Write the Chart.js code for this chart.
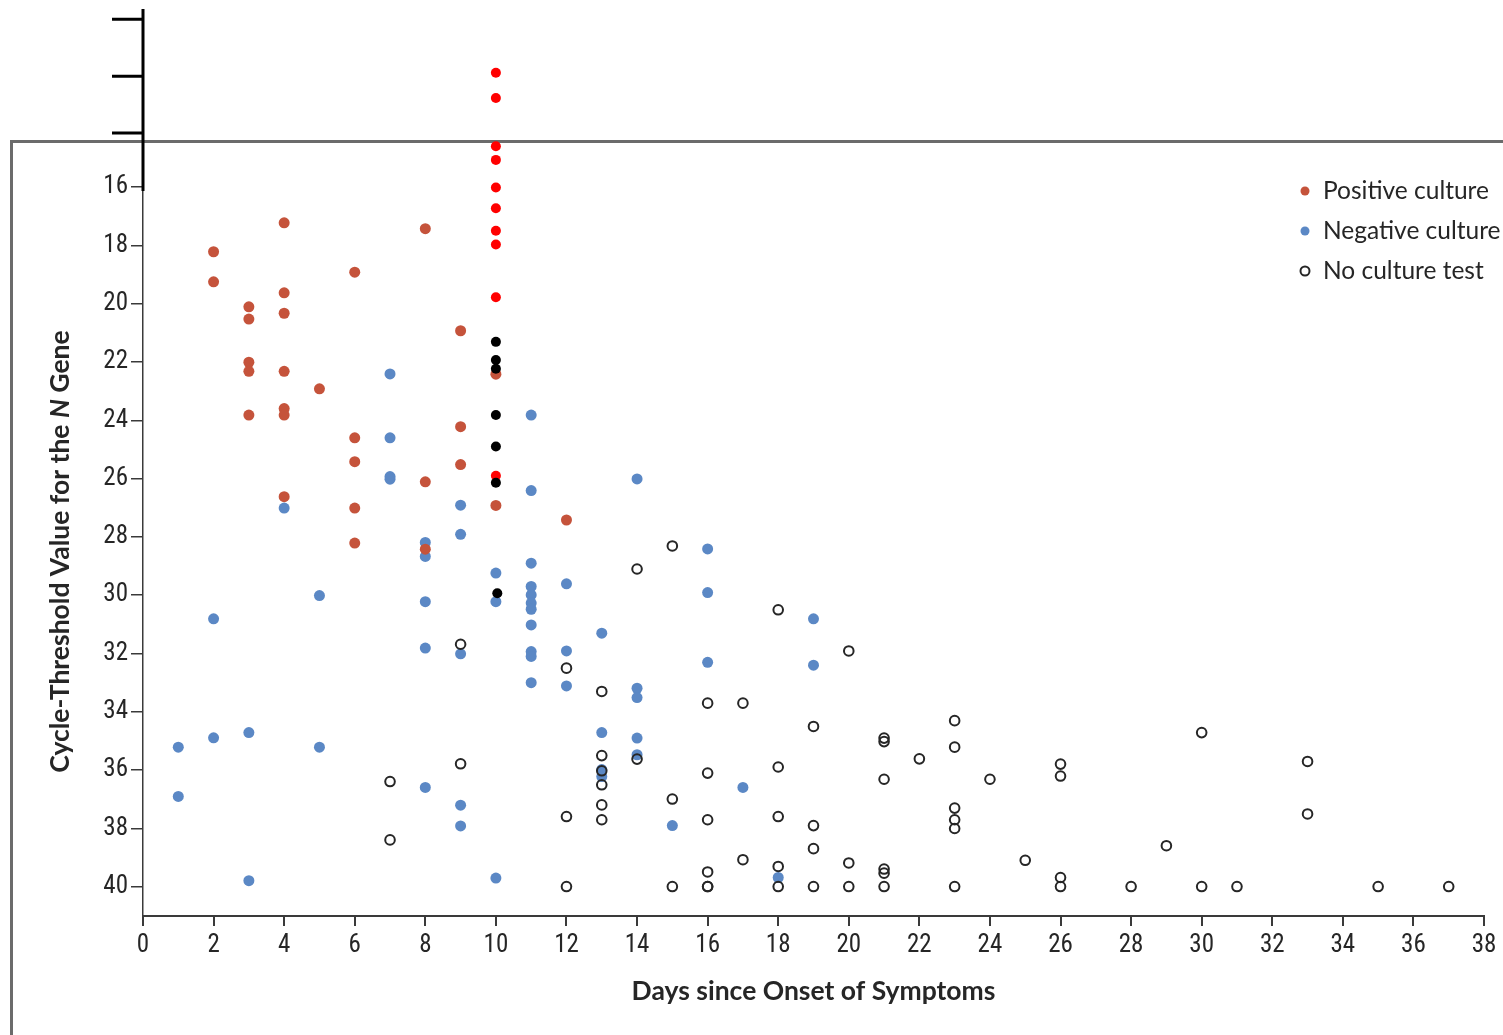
<!DOCTYPE html>
<html>
<head>
<meta charset="utf-8">
<script src="https://cdn.jsdelivr.net/npm/chart.js@4.4.1/dist/chart.umd.min.js"></script>
<style>
  html, body { margin: 0; padding: 0; background: #fff; overflow: hidden; }
  #wrap { position: relative; width: 1503px; height: 1035px; }
  /* grey panel outline running off the right and bottom edges */
  #frame {
    position: absolute; left: 10px; top: 140px; width: 2000px; height: 2000px;
    border-left: 3px solid #6b6b6b; border-top: 3px solid #6b6b6b;
  }
  #ct { position: absolute; left: 0; top: 0; }
</style>
</head>
<body>
<div id="wrap">
  <div id="frame"></div>
  <canvas id="ct" width="1503" height="1035"></canvas>
</div>
<script>
// [day, Ct value]
const positiveCulture = [
  [2, 18.22], [2, 19.25], [3, 20.11], [3, 20.53], [3, 22.01], [3, 22.32], [3, 23.82],
  [4, 17.23], [4, 19.63], [4, 20.33], [4, 22.32], [4, 23.6], [4, 23.82], [4, 26.62],
  [5, 22.92], [6, 18.92], [6, 24.6], [6, 25.42], [6, 27.01], [6, 28.21],
  [8, 17.43], [8, 26.11], [8, 28.42], [9, 20.93], [9, 24.22], [9, 25.52],
  [10, 22.42], [10, 26.92], [12, 27.42]
];

const negativeCulture = [
  [1, 35.21], [1, 36.9], [2, 30.81], [2, 34.89], [3, 34.71], [3, 39.79], [4, 27.01],
  [5, 30.01], [5, 35.21], [7, 22.41], [7, 24.6], [7, 25.93], [7, 26.02],
  [8, 28.19], [8, 28.67], [8, 30.22], [8, 31.81], [8, 36.59],
  [9, 26.91], [9, 27.91], [9, 32.01], [9, 37.2], [9, 37.91],
  [10, 29.24], [10, 30.22], [10, 39.7],
  [11, 23.82], [11, 26.41], [11, 28.9], [11, 29.7], [11, 29.99], [11, 30.27], [11, 30.48],
  [11, 31.02], [11, 31.93], [11, 32.1], [11, 33.0],
  [12, 29.61], [12, 31.91], [12, 33.11], [13, 31.3], [13, 34.71], [13, 35.98], [13, 36.22],
  [14, 26.01], [14, 33.19], [14, 33.51], [14, 34.9], [14, 35.47], [15, 37.9],
  [16, 28.41], [16, 29.91], [16, 32.3], [17, 36.59], [18, 39.68], [19, 30.81], [19, 32.4]
];

const noCultureTest = [
  [7, 36.39], [7, 38.39], [9, 31.68], [9, 35.78], [12, 32.5], [12, 37.59], [12, 39.99],
  [13, 33.3], [13, 35.5], [13, 36.02], [13, 36.5], [13, 37.19], [13, 37.7],
  [14, 29.1], [14, 35.62], [15, 28.31], [15, 36.99], [15, 39.99],
  [16, 33.7], [16, 36.1], [16, 37.7], [16, 39.49], [16, 39.99], [16, 39.99],
  [17, 33.7], [17, 39.07], [18, 30.5], [18, 35.89], [18, 37.59], [18, 39.3], [18, 39.99],
  [19, 34.5], [19, 37.9], [19, 38.69], [19, 39.99], [20, 31.91], [20, 39.18], [20, 39.99],
  [21, 34.9], [21, 35.02], [21, 36.31], [21, 39.39], [21, 39.53], [21, 39.99], [22, 35.61],
  [23, 34.3], [23, 35.21], [23, 37.3], [23, 37.7], [23, 38.0], [23, 39.99], [24, 36.31],
  [25, 39.09], [26, 35.79], [26, 36.2], [26, 39.68], [26, 39.99], [28, 39.99], [29, 38.59],
  [30, 34.71], [30, 39.99], [31, 39.99], [33, 35.7], [33, 37.5], [35, 39.99], [37, 39.99]
];

// extra day-10 markers
const redMarks = [
  [10, 12.08], [10, 12.95], [10, 14.6], [10, 15.07], [10, 16.02], [10, 16.73],
  [10, 17.5], [10, 17.97], [10, 19.78], [10, 25.9]
];
const blackMarks = [
  [10, 21.31], [10, 21.93], [10, 22.23], [10, 23.82], [10, 24.9], [10, 26.14], [10.04, 29.93]
];

const xTicks = [0, 2, 4, 6, 8, 10, 12, 14, 16, 18, 20, 22, 24, 26, 28, 30, 32, 34, 36, 38];
const yTicks = [16, 18, 20, 22, 24, 26, 28, 30, 32, 34, 36, 38, 40];
const yExtraTicks = [10.25, 12.2, 14.15];

const toXY = arr => arr.map(([x, y]) => ({ x, y }));

const BROWN = '#c5533b';
const BLUE = '#5b88c5';
const INK = '#262626';
const TICK_FONT = "'Liberation Sans Narrow', 'Roboto Condensed', 'Lato', sans-serif";
const TEXT_FONT = "'Lato', 'Noto Sans', sans-serif";

// keep the plot area exactly where the layout padding puts it
const noLabelPadding = s => {
  s.paddingTop = 0; s.paddingBottom = 0; s.paddingLeft = 0; s.paddingRight = 0;
};

const overlay = {
  id: 'overlay',
  afterDraw(chart) {
    const { ctx, chartArea, scales } = chart;
    const y = scales.y;
    const axisX = chartArea.left;
    ctx.save();

    // heavy axis extension above 16 with its long ticks
    ctx.strokeStyle = '#000';
    ctx.lineWidth = 3;
    ctx.beginPath();
    ctx.moveTo(axisX, chartArea.top - 1);
    ctx.lineTo(axisX, y.getPixelForValue(16) + 4);
    yExtraTicks.forEach(v => {
      const py = y.getPixelForValue(v);
      ctx.moveTo(axisX - 31, py);
      ctx.lineTo(axisX, py);
    });
    ctx.stroke();

    // y axis title with italic N
    const parts = [
      ['bold', 'Cycle-Threshold Value for the '],
      ['italic bold', 'N'],
      ['bold', ' Gene']
    ];
    const size = 26.5;
    let total = 0;
    parts.forEach(p => { ctx.font = `${p[0]} ${size}px ${TEXT_FONT}`; total += ctx.measureText(p[1]).width; });
    const midY = (y.getPixelForValue(16) + chartArea.bottom) / 2;
    ctx.translate(60, midY);
    ctx.rotate(-Math.PI / 2);
    ctx.fillStyle = INK;
    ctx.textBaseline = 'middle';
    ctx.textAlign = 'left';
    let cx = -total / 2;
    parts.forEach(p => {
      ctx.font = `${p[0]} ${size}px ${TEXT_FONT}`;
      ctx.fillText(p[1], cx, 0);
      cx += ctx.measureText(p[1]).width;
    });
    ctx.setTransform(1, 0, 0, 1, 0, 0);

    // x axis title
    ctx.font = `bold 26.5px ${TEXT_FONT}`;
    ctx.textAlign = 'center';
    ctx.textBaseline = 'middle';
    ctx.fillText('Days since Onset of Symptoms', (chartArea.left + chartArea.right) / 2, chartArea.bottom + 75);

    // legend
    const items = chart.data.datasets.filter(d => d.inLegend).sort((a, b) => a.legendRank - b.legendRank);
    const lx = chart.width - 198;
    let ly = chartArea.top + 181;
    ctx.font = `24.5px ${TEXT_FONT}`;
    ctx.textAlign = 'left';
    items.forEach(d => {
      ctx.beginPath();
      ctx.arc(lx, ly, 4.5, 0, Math.PI * 2);
      if (d.borderWidth > 0) {
        ctx.lineWidth = 2;
        ctx.strokeStyle = d.borderColor;
        ctx.stroke();
      } else {
        ctx.fillStyle = d.backgroundColor;
        ctx.fill();
      }
      ctx.fillStyle = INK;
      ctx.fillText(d.label, lx + 18, ly);
      ly += 40;
    });
    ctx.restore();
  }
};

new Chart(document.getElementById('ct'), {
  type: 'scatter',
  data: {
    datasets: [
      { label: 'marks-black', data: toXY(blackMarks), pointRadius: 5, backgroundColor: '#000', borderWidth: 0 },
      { label: 'marks-red', data: toXY(redMarks), pointRadius: 5, backgroundColor: '#ff0000', borderWidth: 0 },
      { label: 'No culture test', data: toXY(noCultureTest), pointRadius: 4.8, backgroundColor: 'rgba(0,0,0,0)',
        borderColor: INK, borderWidth: 2, inLegend: true, legendRank: 3 },
      { label: 'Positive culture', data: toXY(positiveCulture), pointRadius: 5.5, backgroundColor: BROWN,
        borderWidth: 0, inLegend: true, legendRank: 1 },
      { label: 'Negative culture', data: toXY(negativeCulture), pointRadius: 5.5, backgroundColor: BLUE,
        borderWidth: 0, inLegend: true, legendRank: 2 }
    ]
  },
  options: {
    responsive: false,
    animation: false,
    devicePixelRatio: 1,
    layout: { padding: { top: 10, right: 19, left: 0, bottom: 0 } },
    plugins: { legend: { display: false }, tooltip: { enabled: false } },
    elements: { point: { hoverRadius: 5 } },
    scales: {
      x: {
        type: 'linear', min: 0, max: 38,
        afterBuildTicks: s => { s.ticks = xTicks.map(v => ({ value: v })); },
        afterFit: s => { s.height = 119; noLabelPadding(s); },
        border: { color: '#3a3a3a', width: 2 },
        grid: { drawOnChartArea: false, tickLength: 10, color: '#3a3a3a', lineWidth: 2 },
        ticks: { font: { family: TICK_FONT, size: 25 }, color: INK, padding: 5, maxRotation: 0, autoSkip: false }
      },
      y: {
        type: 'linear', min: 9.93, max: 41, reverse: true,
        afterBuildTicks: s => { s.ticks = yTicks.map(v => ({ value: v })); },
        afterFit: s => { s.width = 143; noLabelPadding(s); },
        border: { color: '#3a3a3a', width: 1.5 },
        grid: { drawOnChartArea: false, tickLength: 12, color: '#3a3a3a', lineWidth: 1.5 },
        ticks: { font: { family: TICK_FONT, size: 25 }, color: INK, padding: 3, autoSkip: false }
      }
    }
  },
  plugins: [overlay]
});
</script>
</body>
</html>
